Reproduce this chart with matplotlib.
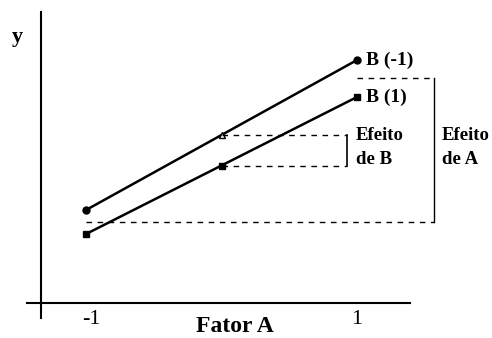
import matplotlib
matplotlib.use("Agg")
import matplotlib.pyplot as plt
from matplotlib.transforms import ScaledTranslation
import numpy as np

# Fator A levels and response y for each level of B
fator_a = [-1, 1]
y_b_menos = [9.3, 24.3]   # B (-1)
y_b_mais = [6.9, 20.6]    # B (1)

serif = ["Liberation Serif", "DejaVu Serif"]

fig = plt.figure(figsize=(4.92, 3.38), dpi=100)
ax = fig.add_axes([0, 0, 1, 1])
ax.set_xlim(-1.635, 1.996)
ax.set_ylim(-3.5, 30.3)

# axes drawn as crossing lines
for s in ["top", "right"]:
    ax.spines[s].set_visible(False)
ax.spines["left"].set_position(("data", -1.332))
ax.spines["left"].set_bounds(-1.5, 29.1)
ax.spines["bottom"].set_position(("data", 0))
ax.spines["bottom"].set_bounds(-1.435, 1.391)
for s in ["left", "bottom"]:
    ax.spines[s].set_linewidth(1.5)
ax.set_yticks([])
ax.set_xticks(fator_a)
ax.set_xticklabels(["-1", "1"], family=serif, fontsize=16)
ax.tick_params(axis="x", length=0, pad=5)
lbl = ax.get_xticklabels()[0]
lbl.set_transform(lbl.get_transform() + ScaledTranslation(0.05, 0, fig.dpi_scale_trans))

ax.text(0.1, -2.85, "Fator A", family=serif, fontsize=17, fontweight="bold",
        ha="center", va="baseline")
ax.text(-1.51, 26.6, "y", family=serif, fontsize=16, fontweight="bold",
        ha="center", va="center")

# lines for both levels of B
ax.plot(fator_a, y_b_menos, color="black", lw=1.8, marker="o", ms=5)
ax.plot(fator_a, y_b_mais, color="black", lw=1.8, marker="s", ms=5)

# midpoints
mid_menos = np.mean(y_b_menos)
mid_mais = np.mean(y_b_mais)
ax.plot([0], [mid_menos], marker="^", ms=4.5, color="black", mfc="white")
ax.plot([0], [mid_mais], marker="s", ms=4.5, color="black", mfc="black")

# efeito de A: mean at A=-1 vs mean at A=1
media_a_neg = np.mean([y_b_menos[0], y_b_mais[0]])
media_a_pos = np.mean([y_b_menos[1], y_b_mais[1]])
xa = 1.568
dash = dict(color="black", lw=1.0, ls=(0, (4, 4)))
ax.plot([fator_a[0], xa], [media_a_neg, media_a_neg], **dash)
ax.plot([fator_a[1], xa], [media_a_pos, media_a_pos], **dash)
ax.plot([xa, xa], [media_a_neg, media_a_pos], color="black", lw=1.0)

# efeito de B: at A=0
xb = 0.926
ax.plot([0, xb], [mid_menos, mid_menos], **dash)
ax.plot([0, xb], [mid_mais, mid_mais], **dash)
ax.plot([xb, xb], [mid_mais, mid_menos], color="black", lw=1.2)

lab = dict(family=serif, fontsize=14, fontweight="bold", va="center", ha="left")
ax.text(1.066, y_b_menos[1], "B (-1)", **lab)
ax.text(1.066, y_b_mais[1], "B (1)", **lab)
small = dict(family=serif, fontsize=13.5, fontweight="bold", va="center", ha="left")
ax.text(0.993, 16.8, "Efeito", **small)
ax.text(0.993, 14.3, "de B", **small)
ax.text(1.628, 16.8, "Efeito", **small)
ax.text(1.628, 14.3, "de A", **small)

fig.savefig("out.png", dpi=100)
